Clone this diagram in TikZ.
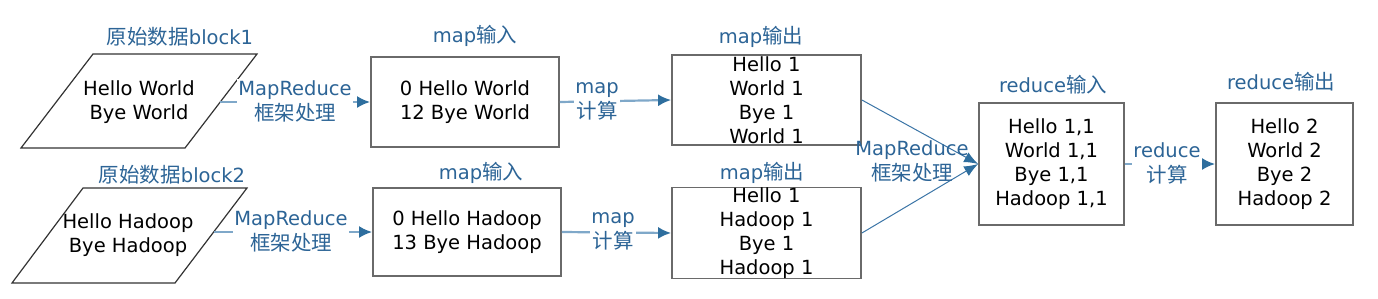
\documentclass[tikz,border=0pt]{standalone}
\usepackage{fontspec}
\setmainfont{DejaVu Sans}
\newfontfamily\cjk{Noto Sans CJK SC}[Scale=1.05]
\usetikzlibrary{arrows.meta}
\newcommand\zh[1]{{\cjk #1}}
\definecolor{lblue}{HTML}{2C6496}
\definecolor{lineblue}{HTML}{7FA8C9}
\definecolor{headblue}{HTML}{2E6E9E}
\definecolor{diagblue}{HTML}{3A74A6}
\definecolor{boxgray}{HTML}{6A6A6A}
\tikzset{
  txt/.style={font=\fontsize{19.5}{24}\selectfont, align=center, text=black, inner sep=0pt},
  lbl/.style={font=\fontsize{19.5}{25}\selectfont, align=center, text=lblue, inner sep=0pt},
  albl/.style={lbl, fill=white, inner sep=1.5pt},
  databox/.style={draw=boxgray, line width=1.8pt, txt},
  para/.style={draw=black!80, line width=1.2pt},
  harrow/.style={draw=lineblue, line width=2.2pt, -{Latex[length=13pt,width=12pt,color=headblue]}},
  darrow/.style={draw=diagblue, line width=1pt, -{Latex[length=14pt,width=11pt,color=headblue]}},
}
\begin{document}
\begin{tikzpicture}[x=1pt,y=-1pt]
\useasboundingbox (0,0) rectangle (1378,298);
% parallelograms
\draw[para] (93,54) -- (257,54) -- (185,148) -- (21,148) -- cycle;
\draw[para] (83,188) -- (247,188) -- (175,283) -- (12,283) -- cycle;
\node[txt] (p1) at (139,102) {Hello World\\Bye World};
\node[txt] (p2) at (128,235) {Hello Hadoop\\Bye Hadoop};
\coordinate (p1e) at (220,102);
\coordinate (p2e) at (214,232);
\node[lbl] (t1) at (180,37) {\zh{原始数据}block1};
\node[lbl] (t2) at (172,175) {\zh{原始数据}block2};
% map input
\node[databox, minimum width=188pt, minimum height=90pt] (in1) at (465,102) {0 Hello World\\12 Bye World};
\node[databox, minimum width=188pt, minimum height=88pt] (in2) at (467,232) {0 Hello Hadoop\\13 Bye Hadoop};
\node[lbl] (ti1) at (475,36) {map\zh{输入}};
\node[lbl] (ti2) at (481,173) {map\zh{输入}};
% map output
\node[databox, minimum width=189pt, minimum height=90pt] (out1) at (766.5,100) {Hello 1\\World 1\\Bye 1\\World 1};
\node[databox, minimum width=189pt, minimum height=88pt] (out2) at (766.5,233) {Hello 1\\Hadoop 1\\Bye 1\\Hadoop 1};
\node[lbl] (to1) at (761,37) {map\zh{输出}};
\node[lbl] (to2) at (762,173) {map\zh{输出}};
% reduce
\node[databox, minimum width=145pt, minimum height=122pt] (rin) at (1051.5,164) {Hello 1,1\\World 1,1\\Bye 1,1\\Hadoop 1,1};
\node[databox, minimum width=137pt, minimum height=122pt] (rout) at (1284.5,164) {Hello 2\\World 2\\Bye 2\\Hadoop 2};
\node[lbl] (tr1) at (1053,85) {reduce\zh{输入}};
\node[lbl] (tr2) at (1281,82) {reduce\zh{输出}};
% connectors
\draw[harrow] (p1e) -- (in1.west);
\draw[harrow] (p2e) -- (in2.west);
\draw[harrow] (in1.east) -- (out1.west);
\draw[harrow] (in2.east) -- (out2.west);
\draw[darrow] (out1.east) -- (rin.west);
\draw[darrow] (out2.east) -- (rin.west);
\draw[harrow] (rin.east) -- (rout.west);
% connector labels
\node[albl] (a1) at (295,101) {MapReduce\\\zh{框架处理}};
\node[albl] (a2) at (291,231) {MapReduce\\\zh{框架处理}};
\node[albl] (a3) at (597,101) {map\\\zh{计算}};
\node[albl] (a4) at (613,231) {map\\\zh{计算}};
\node[lbl] (a5) at (912,161) {MapReduce\\\zh{框架处理}};
\node[albl] (a6) at (1167,163) {reduce\\\zh{计算}};
\end{tikzpicture}
\end{document}
